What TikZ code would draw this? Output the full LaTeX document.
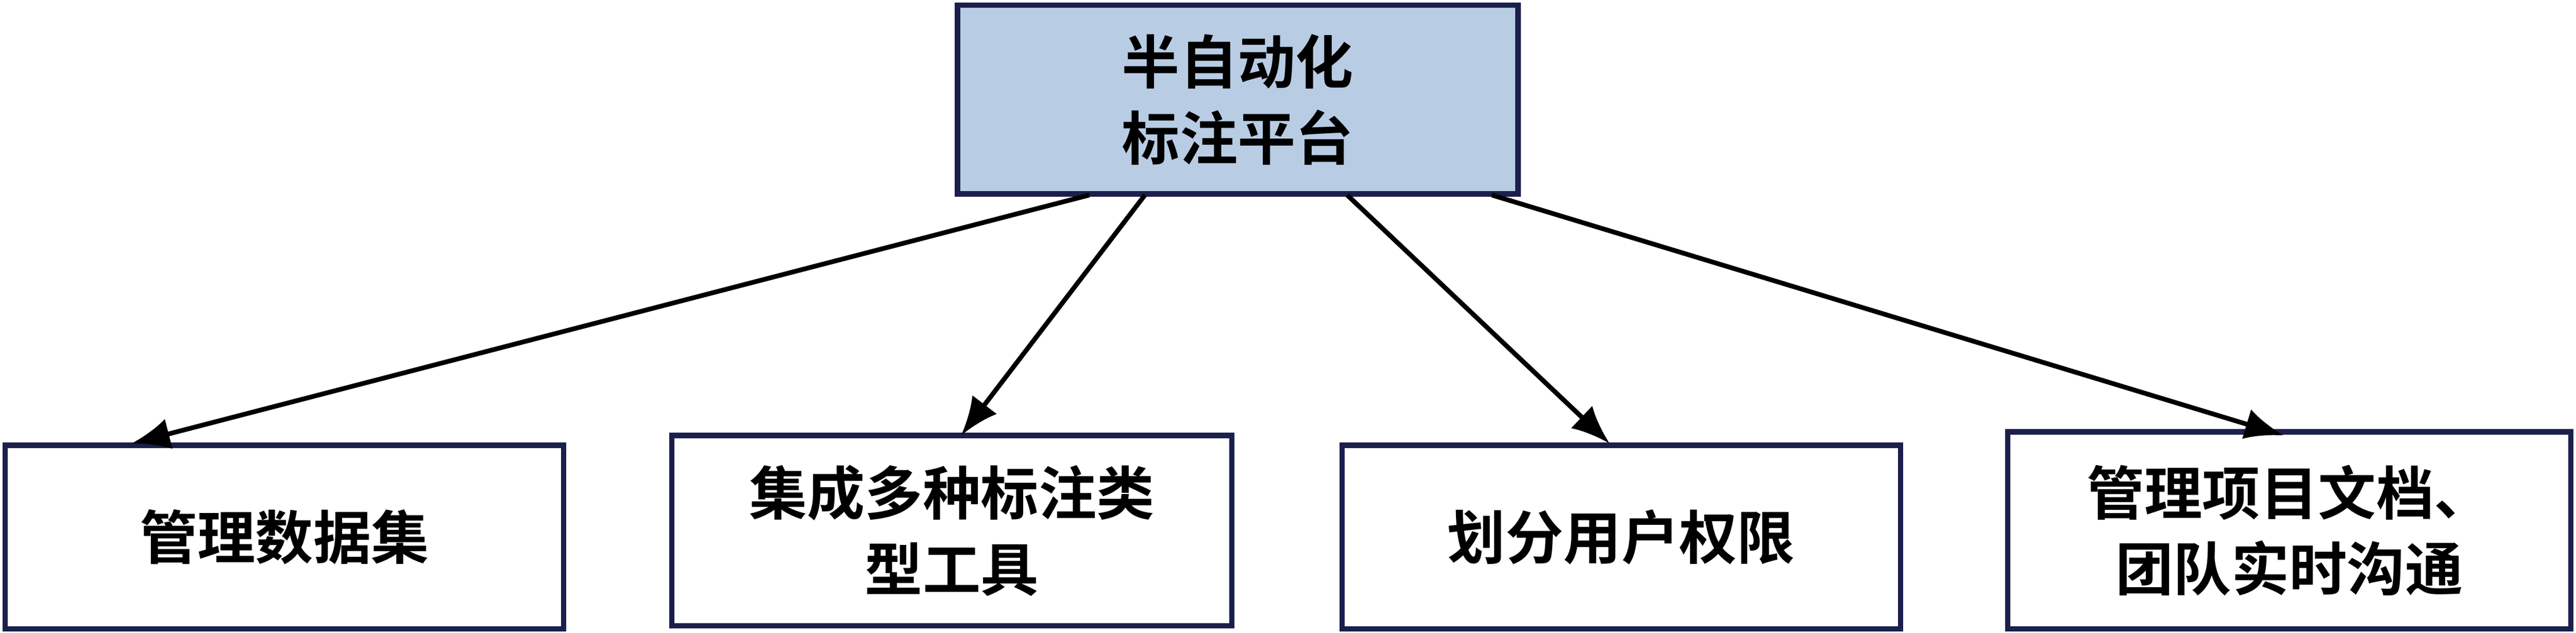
\documentclass[tikz,border=0pt]{standalone}
\usepackage{fontspec}
\newfontfamily\cjk{Noto Sans CJK SC}[BoldFont={Noto Sans CJK SC Bold}]
\usetikzlibrary{arrows.meta}
\definecolor{edge}{HTML}{1B1F4B}
\definecolor{topfill}{HTML}{B8CCE4}
\begin{document}
\begin{tikzpicture}[x=1cm,y=1cm,
  box/.style={draw=edge,line width=3pt,align=center,font=\cjk\bfseries\fontsize{32}{42}\selectfont,inner sep=0pt},
  arr/.style={line width=2.6pt,-{Latex[length=0.75cm,width=0.6cm]}}]
\useasboundingbox (0,0) rectangle (50.04,12.29);
\node[box,fill=topfill,minimum width=10.89cm,minimum height=3.67cm] (top) at (24.045,10.355) {半自动化\\标注平台};
\node[box,fill=white,minimum width=10.85cm,minimum height=3.57cm] (b1) at (5.525,1.855) {管理数据集};
\node[box,fill=white,minimum width=10.88cm,minimum height=3.70cm] (b2) at (18.49,1.98) {集成多种标注类\\型工具};
\node[box,fill=white,minimum width=10.85cm,minimum height=3.57cm] (b3) at (31.495,1.855) {划分用户权限};
\node[box,fill=white,minimum width=10.94cm,minimum height=3.83cm] (b4) at (44.47,1.985) {管理项目文档、\\团队实时沟通};
\coordinate (s1) at (21.16,8.50); \coordinate (e1) at (2.55,3.67);
\coordinate (s2) at (22.24,8.50); \coordinate (e2) at (18.67,3.83);
\coordinate (s3) at (26.17,8.50); \coordinate (e3) at (31.27,3.67);
\coordinate (s4) at (28.98,8.50); \coordinate (e4) at (44.36,3.83);
\draw[arr] (s1) -- (e1);
\draw[arr] (s2) -- (e2);
\draw[arr] (s3) -- (e3);
\draw[arr] (s4) -- (e4);
\end{tikzpicture}
\end{document}
